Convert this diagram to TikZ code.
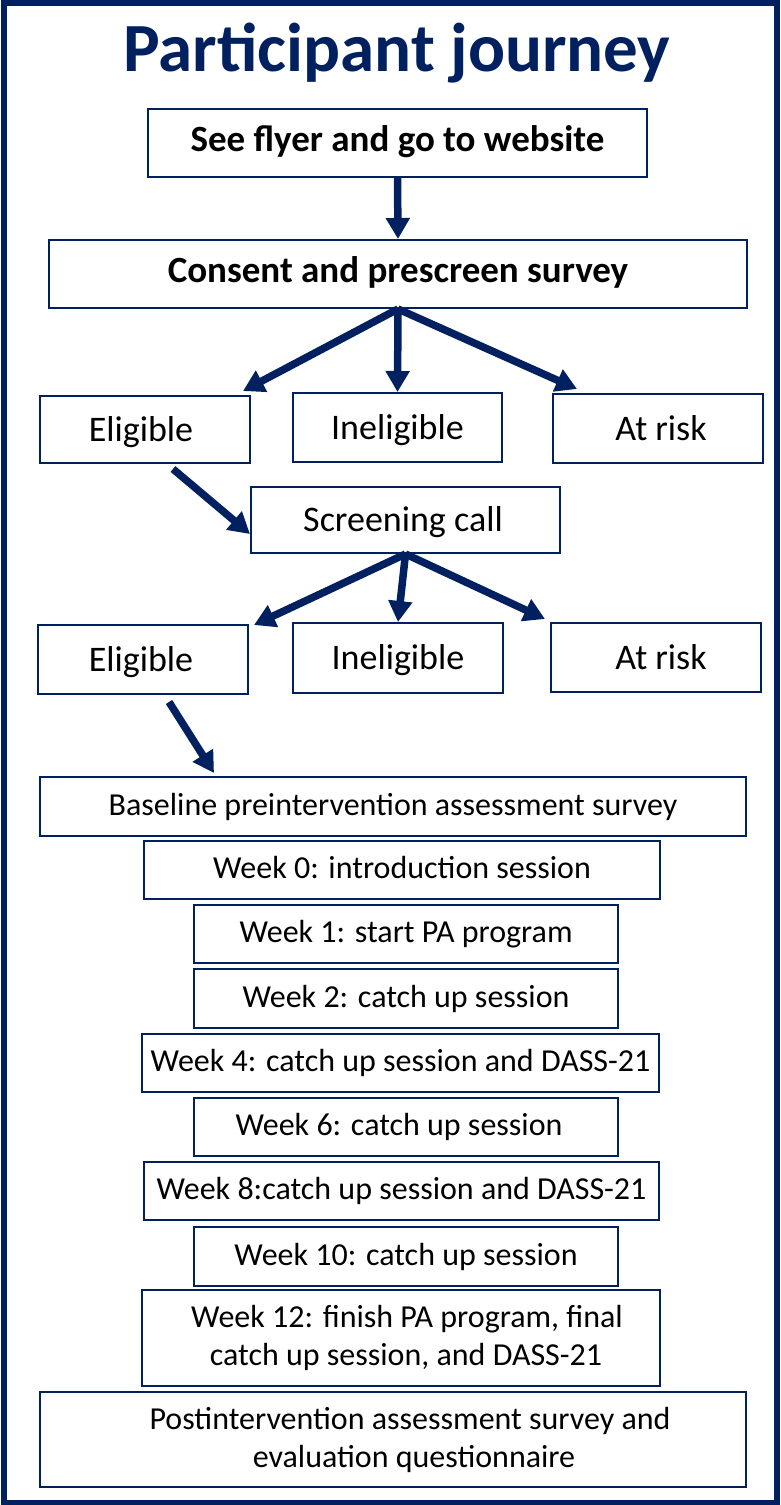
\documentclass[tikz,border=0pt]{standalone}
\usepackage{fontspec}
\setmainfont{Carlito}
\usetikzlibrary{arrows.meta}
\definecolor{navy}{HTML}{002060}
\tikzset{
  box/.style={draw=navy, line width=2pt, inner sep=0pt, align=center, text=black, fill=white},
  big/.style={font=\fontsize{37pt}{44pt}\selectfont\bfseries, text height=24pt, text depth=7pt},
  mid/.style={font=\fontsize{36pt}{42pt}\selectfont, text height=30pt, text depth=7pt},
  small/.style={font=\fontsize{32pt}{38pt}\selectfont, text height=24pt, text depth=7pt},
  smallml/.style={font=\fontsize{32pt}{38pt}\selectfont},
  flow/.style={draw=navy, line width=7.5pt, -{Triangle[length=21pt,width=23pt]}}
}
\begin{document}
\begin{tikzpicture}[x=1pt,y=-1pt]
\useasboundingbox (0,0) rectangle (780,1505);
\fill[white] (0,0) rectangle (780,1505);
\draw[navy, line width=6pt] (3.5,3) rectangle (776.5,1502.5);

\node[text=navy, font=\fontsize{69pt}{80pt}\selectfont\bfseries, inner sep=0pt, anchor=base] (title) at (397,71) {Participant journey};

\node[box, big, minimum width=499pt, minimum height=68pt] (b1) at (397.5,143) {See flyer and go to website};
\node[box, big, minimum width=698pt, minimum height=68pt] (b2) at (398,274) {Consent and prescreen survey};

\node[box, mid, minimum width=210pt, minimum height=67pt] (e1) at (145,429.5) {Eligible\hspace*{8pt}};
\node[box, mid, minimum width=209pt, minimum height=69pt] (i1) at (397.5,427.5) {Ineligible};
\node[box, mid, minimum width=210pt, minimum height=69pt] (r1) at (658,428.5) {\hspace*{6pt}At risk};

\node[box, mid, minimum width=309pt, minimum height=66pt] (sc) at (405.5,520) {Screening call\hspace*{5pt}};

\node[box, mid, minimum width=210pt, minimum height=69pt] (e2) at (143,659.5) {Eligible\hspace*{4pt}};
\node[box, mid, minimum width=210pt, minimum height=70pt] (i2) at (398,658) {Ineligible};
\node[box, mid, minimum width=210pt, minimum height=69pt] (r2) at (656,657.5) {\hspace*{10pt}At risk};

\node[box, small, minimum width=706pt, minimum height=59pt] (base) at (393,806.5) {Baseline preintervention assessment survey};
\node[box, small, minimum width=516pt, minimum height=58pt] (w0) at (402,870) {Week 0: introduction session};
\node[box, small, minimum width=424pt, minimum height=58pt] (w1) at (406,934) {Week 1: start PA program};
\node[box, small, minimum width=424pt, minimum height=59pt] (w2) at (406,998.5) {Week 2: catch up session};
\node[box, small, minimum width=517pt, minimum height=58pt] (w4) at (400.5,1063) {Week 4: catch up session and DASS-21};
\node[box, small, minimum width=424pt, minimum height=58pt] (w6) at (406,1127) {Week 6: catch up session\hspace*{14pt}};
\node[box, small, minimum width=515pt, minimum height=58pt] (w8) at (401.5,1191) {Week 8:catch up session and DASS-21};
\node[box, small, minimum width=424pt, minimum height=59pt] (w10) at (406,1256.5) {Week 10: catch up session};
\node[box, smallml, minimum width=518pt, minimum height=96pt] (w12) at (401,1338) {\hspace*{12pt}Week 12: finish PA program, final\\\hspace*{10pt}catch up session, and DASS-21};
\node[box, smallml, minimum width=706pt, minimum height=95pt] (post) at (393,1439.5) {\hspace*{34pt}Postintervention assessment survey and\\\hspace*{42pt}evaluation questionnaire};

% connector end points
\coordinate (t1l) at (243,391);
\coordinate (t1r) at (577,389);
\coordinate (s2) at (173,469);
\coordinate (t2) at (250,534);
\coordinate (t3l) at (254,625);
\coordinate (t3r) at (545,619);
\coordinate (s4) at (169,702);
\coordinate (t4) at (214,773);

\draw[flow] (b1.south) -- (b2.north);
\draw[flow] (b2.south) -- (t1l);
\draw[flow] (b2.south) -- (i1.north);
\draw[flow] (b2.south) -- (t1r);
\draw[flow] (s2) -- (t2);
\draw[flow] (sc.south) -- (t3l);
\draw[flow] (sc.south) -- (i2.north);
\draw[flow] (sc.south) -- (t3r);
\draw[flow] (s4) -- (t4);
\end{tikzpicture}
\end{document}
